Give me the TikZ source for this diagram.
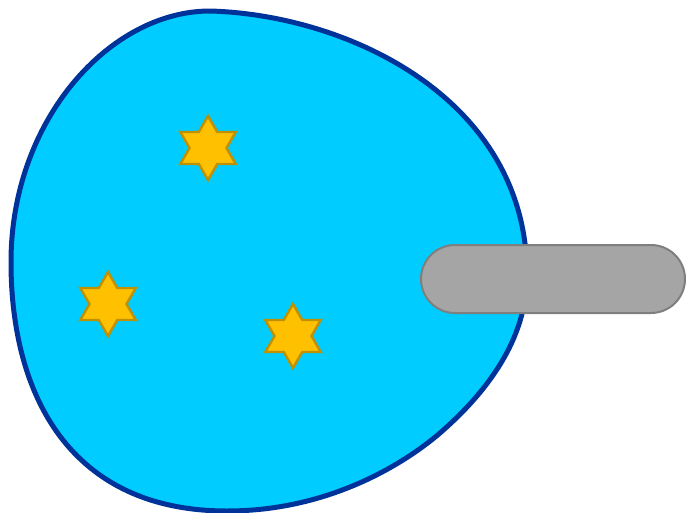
\documentclass[tikz,border=0pt]{standalone}
\usetikzlibrary{shapes.geometric}
\definecolor{blobfill}{HTML}{00CCFF}
\definecolor{blobline}{HTML}{003399}
\definecolor{starfill}{HTML}{FFC000}
\definecolor{starline}{HTML}{BF9000}
\definecolor{pillfill}{HTML}{A5A5A5}
\definecolor{pillline}{HTML}{7F7F7F}
\tikzset{
  hexstar/.style={star, star points=6, star point ratio=1.732, minimum size=64pt, inner sep=0pt,
    fill=starfill, draw=starline, line width=2.4pt},
  pill/.style={rectangle, rounded corners=34pt, minimum width=264pt, minimum height=68pt, inner sep=0pt,
    fill=pillfill, draw=pillline, line width=2pt},
  blob/.style={fill=blobfill, draw=blobline, line width=5pt}
}
\begin{document}
\begin{tikzpicture}[x=1pt,y=-1pt]
\useasboundingbox (0,0) rectangle (686,512);
\draw[blob] (210,11) .. controls (350,15) and (527,100) .. (527,275)
  .. controls (527,340) and (486,393) .. (440,433)
  .. controls (411,458) and (335,511) .. (227,511)
  .. controls (70,511) and (11,395) .. (11,262)
  .. controls (11,120) and (110,11) .. (210,11) -- cycle;
\node[hexstar] (s1) at (208,148) {};
\node[hexstar] (s2) at (108,304) {};
\node[hexstar] (s3) at (293,336) {};
\node[pill] (p) at (553,279) {};
\end{tikzpicture}
\end{document}
